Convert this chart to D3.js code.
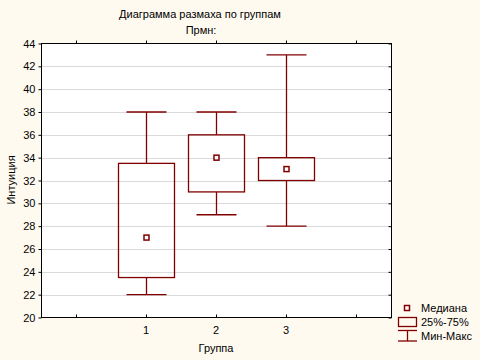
<!DOCTYPE html>
<html><head><meta charset="utf-8">
<script src="https://cdn.jsdelivr.net/npm/d3@7"></script>
<style>
body{margin:0;background:#FFFAF0;}
text{font-family:"Liberation Sans",Arial,sans-serif;font-size:11px;fill:#000;}
</style></head>
<body><svg id="c" width="480" height="360"></svg>
<script>
const groups = ["1","2","3"];
const groupPos = [1,2,3];
const mins = [22,29,28];
const q1s = [23.5,31,32];
const medians = [27,34,33];
const q3s = [33.5,36,34];
const maxs = [38,38,43];
const yTicks = [20,22,24,26,28,30,32,34,36,38,40,42,44];
const xTicks = [0,1,2,3,4];
const legendLabels = ["Медиана","25%-75%","Мин-Макс"];
const title = "Диаграмма размаха по группам";
const subtitle = "Прмн:";
const yLabel = "Интуиция";
const xLabel = "Группа";

const col = "#800000";
const sw = 1.3;
const svg = d3.select("#c");
const L=41.5, R=391.5, T=43.5, B=317.5;
const x = d3.scaleLinear().domain([-0.5,4.5]).range([L-0.5,R-0.5]);
const y = d3.scaleLinear().domain([20,44]).range([B,T]);

svg.append("rect").attr("x",L).attr("y",T).attr("width",R-L).attr("height",B-T).attr("fill","#fff");

// grid
svg.append("g").selectAll("line").data(yTicks.filter(d=>d>20&&d<44)).join("line")
  .attr("x1",L).attr("x2",R).attr("y1",d=>Math.round(y(d))+0.5).attr("y2",d=>Math.round(y(d))+0.5)
  .attr("stroke","#b4b4b4").attr("stroke-dasharray","1,1");

// axes
const yAxis = d3.axisLeft(y).tickValues(yTicks).tickSize(3).tickFormat(d3.format("d"));
const ga = svg.append("g").attr("transform",`translate(${L},0)`).call(yAxis);
ga.select(".domain").remove();
ga.selectAll("text").attr("x",-6).style("font-size","11px");
const yr = svg.append("g").attr("transform",`translate(${R},0)`).call(d3.axisLeft(y).tickValues(yTicks).tickSize(3).tickFormat(""));
yr.select(".domain").remove();
const xb = svg.append("g").attr("transform",`translate(0,${B})`)
  .call(d3.axisTop(x).tickValues(xTicks).tickSize(3).tickFormat(""));
xb.select(".domain").remove();
const xt = svg.append("g").attr("transform",`translate(0,${T})`)
  .call(d3.axisTop(x).tickValues(xTicks).tickSize(3).tickFormat(""));
xt.select(".domain").remove();
svg.append("g").attr("transform",`translate(0,${B})`).selectAll("text").data(groupPos).join("text")
  .attr("x",d=>x(d)).attr("y",16).attr("text-anchor","middle").text((d,i)=>groups[i]);
svg.selectAll(".tick line").attr("stroke","#000");
svg.append("rect").attr("x",L).attr("y",T).attr("width",R-L).attr("height",B-T)
  .attr("fill","none").attr("stroke","#000").attr("stroke-width",1);

// boxes
const bw = 56, cw = 40;
const g = svg.append("g");
groupPos.forEach((p,i)=>{
  const cx = Math.floor(x(p))+0.5;
  g.append("line").attr("x1",cx).attr("x2",cx).attr("y1",y(maxs[i])).attr("y2",y(q3s[i])).attr("stroke",col).attr("stroke-width",sw);
  g.append("line").attr("x1",cx).attr("x2",cx).attr("y1",y(q1s[i])).attr("y2",y(mins[i])).attr("stroke",col).attr("stroke-width",sw);
  g.append("line").attr("x1",cx-cw/2).attr("x2",cx+cw/2).attr("y1",y(maxs[i])).attr("y2",y(maxs[i])).attr("stroke",col).attr("stroke-width",sw);
  g.append("line").attr("x1",cx-cw/2).attr("x2",cx+cw/2).attr("y1",y(mins[i])).attr("y2",y(mins[i])).attr("stroke",col).attr("stroke-width",sw);
  g.append("rect").attr("x",cx-bw/2).attr("y",y(q3s[i])).attr("width",bw).attr("height",y(q1s[i])-y(q3s[i]))
    .attr("fill","none").attr("stroke",col).attr("stroke-width",sw);
  g.append("rect").attr("x",cx-2.5).attr("y",y(medians[i])-2.5).attr("width",5).attr("height",5)
    .attr("fill","#fff").attr("stroke",col).attr("stroke-width",1.5);
});

// titles
svg.append("text").attr("x",200).attr("y",18).attr("text-anchor","middle").text(title);
svg.append("text").attr("x",201).attr("y",34).attr("text-anchor","middle").text(subtitle);
svg.append("text").attr("transform","translate(15,180) rotate(-90)").attr("text-anchor","middle").text(yLabel);
svg.append("text").attr("x",216).attr("y",352).attr("text-anchor","middle").text(xLabel);

// legend
const lg = svg.append("g");
lg.append("rect").attr("x",404.5).attr("y",305.5).attr("width",5).attr("height",5).attr("fill","#fff").attr("stroke",col).attr("stroke-width",1.5);
lg.append("rect").attr("x",398.5).attr("y",317.5).attr("width",18).attr("height",9).attr("fill","none").attr("stroke",col).attr("stroke-width",sw);
lg.append("line").attr("x1",398).attr("x2",417).attr("y1",330.5).attr("y2",330.5).attr("stroke",col).attr("stroke-width",sw);
lg.append("line").attr("x1",398).attr("x2",417).attr("y1",341).attr("y2",341).attr("stroke",col).attr("stroke-width",sw);
lg.append("line").attr("x1",407.5).attr("x2",407.5).attr("y1",330).attr("y2",341).attr("stroke",col).attr("stroke-width",sw);
lg.selectAll("text.l").data(legendLabels).join("text").attr("class","l")
  .attr("x",421).attr("y",(d,i)=>312+i*14).text(d=>d);
</script></body></html>
